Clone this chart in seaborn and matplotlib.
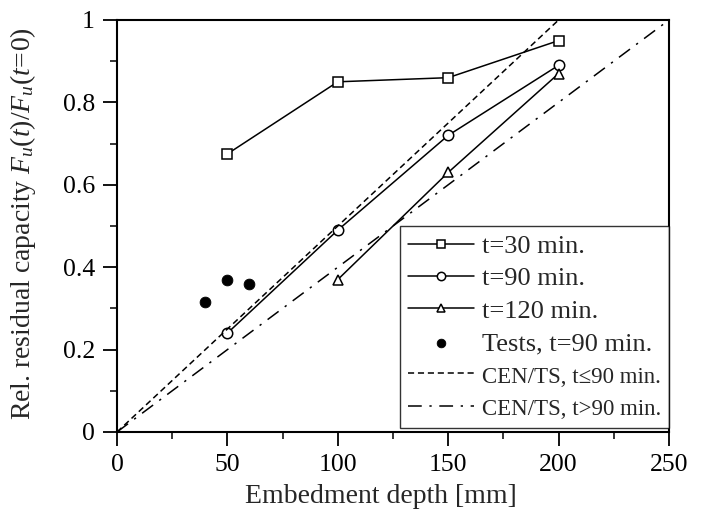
import matplotlib
matplotlib.use("Agg")
import matplotlib.pyplot as plt
import seaborn as sns
from matplotlib.ticker import MultipleLocator, FuncFormatter

# Data
depth_30 = [50, 100, 150, 200]
cap_30 = [0.675, 0.85, 0.86, 0.95]

depth_90 = [50, 100, 150, 200]
cap_90 = [0.24, 0.49, 0.72, 0.89]

depth_120 = [100, 150, 200]
cap_120 = [0.37, 0.63, 0.87]

test_depth = [40, 50, 60]
test_cap = [0.315, 0.37, 0.36]

# CEN/TS design lines
cen_le90_depth = [0, 200]
cen_le90_cap = [0.0, 1.0]
cen_gt90_depth = [0, 250]
cen_gt90_cap = [0.0, 1.0]

sns.set_style("ticks")
plt.rcParams["font.family"] = ["Liberation Serif", "DejaVu Serif"]
plt.rcParams["mathtext.fontset"] = "custom"
plt.rcParams["mathtext.rm"] = "Liberation Serif"
plt.rcParams["mathtext.it"] = "Liberation Serif:italic"

fig = plt.figure(figsize=(7.01, 5.14), dpi=100)
ax = fig.add_axes([117 / 701, 1 - 432 / 514, (669 - 117) / 701, (432 - 20) / 514])

lw = 1.1
mk = dict(markersize=7.5, markerfacecolor="white", markeredgecolor="black",
          markeredgewidth=1.1)
sns.lineplot(x=depth_30, y=cap_30, ax=ax, color="black", lw=lw, marker="s",
             label="t=30 min.", **mk)
sns.lineplot(x=depth_90, y=cap_90, ax=ax, color="black", lw=lw, marker="o",
             label="t=90 min.", **mk)
sns.lineplot(x=depth_120, y=cap_120, ax=ax, color="black", lw=lw, marker="^",
             label="t=120 min.", **mk)
sns.scatterplot(x=test_depth, y=test_cap, ax=ax, color="black", s=60,
                edgecolor="black", label="Tests, t=90 min.", zorder=5)
sns.lineplot(x=cen_le90_depth, y=cen_le90_cap, ax=ax, color="black", lw=lw,
             label="CEN/TS, t\u226490 min.")
ax.lines[-1].set_dashes([4, 2.5])
sns.lineplot(x=cen_gt90_depth, y=cen_gt90_cap, ax=ax, color="black", lw=lw,
             label="CEN/TS, t>90 min.")
ax.lines[-1].set_dashes([9, 5, 1.5, 5])

ax.set_xlim(0, 250)
ax.set_ylim(0, 1)
ax.xaxis.set_major_locator(MultipleLocator(50))
ax.xaxis.set_minor_locator(MultipleLocator(25))
ax.yaxis.set_major_locator(MultipleLocator(0.2))
ax.yaxis.set_minor_locator(MultipleLocator(0.1))
ax.yaxis.set_major_formatter(
    FuncFormatter(lambda v, p: "0" if v == 0 else ("1" if abs(v - 1) < 1e-9 else f"{v:.1f}")))

for s in ax.spines.values():
    s.set_linewidth(1.5)
    s.set_color("black")
ax.tick_params(which="major", direction="out", length=10, width=1.3,
               labelsize=18.5, colors="black", pad=6)
ax.tick_params(which="minor", direction="out", length=5, width=1.3)

ax.set_xlabel("Embedment depth [mm]", fontsize=20)
ax.set_ylabel(r"Rel. residual capacity $F_u(t)/F_u(t\!=\!0)$", fontsize=20)
ax.xaxis.set_label_coords(0.478, -0.127)
ax.yaxis.set_label_coords(-0.143, 0.505)

leg = ax.legend(loc="lower right", bbox_to_anchor=(1.0, 0.01), fontsize=19,
                frameon=True, fancybox=False, edgecolor="black",
                handlelength=2.5, labelspacing=0.34, borderpad=0.3,
                handletextpad=0.3, borderaxespad=0, markerscale=0.8)
leg.get_frame().set_linewidth(1.0)
for t in leg.get_texts()[4:]:
    t.set_fontsize(16.5)

fig.savefig("out.png", dpi=100)
